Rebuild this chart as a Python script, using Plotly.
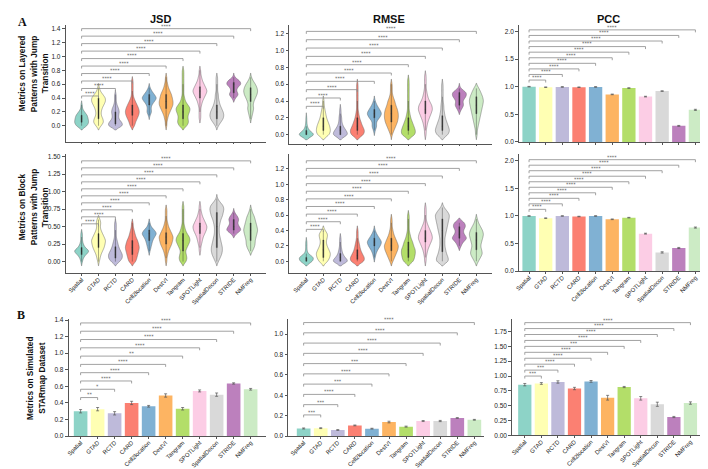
import numpy as np
import plotly.graph_objects as go

methods = ["Spatial", "GTAD", "RCTD", "CARD", "Cell2location", "DestVI",
           "Tangram", "SPOTLight", "SpatialDecon", "STRIDE", "NMFreg"]
colors = ["#8dd3c7", "#ffffb3", "#bebada", "#fb8072", "#80b1d3", "#fdb462",
          "#b3de69", "#fccde5", "#d9d9d9", "#bc80bd", "#ccebc5"]

# Violin distributions, read from the picture as histograms:
# counts at levels 0.00, 0.05, 0.10, ... (one list per method)
layered_jsd = [
    [8, 10, 9, 8, 4, 1, 1],
    [3, 6, 5, 3, 3, 4, 6, 8, 8, 5, 2, 1],
    [10, 8, 4, 4, 5, 4, 2, 1, 1, 1],
    [3, 4, 6, 8, 9, 8, 6, 4, 2, 1, 1, 1, 1, 1],
    [0, 0, 0, 1, 3, 2, 3, 6, 9, 6, 3, 1],
    [1, 1, 2, 3, 5, 7, 9, 9, 8, 7, 5, 3, 2, 1, 1],
    [5, 7, 6, 6, 8, 9, 6, 3, 2, 1, 1, 1, 1, 1, 1, 1, 1],
    [0, 0, 1, 1, 1, 1, 2, 3, 5, 7, 9, 7, 5, 3, 2, 1, 1],
    [2, 5, 8, 9, 8, 6, 4, 3, 2, 2, 1, 1, 1, 1, 1],
    [0, 0, 0, 0, 0, 0, 0, 0, 2, 6, 3, 4, 9, 7, 1],
    [0, 0, 1, 2, 3, 4, 3, 4, 6, 8, 9, 8, 6, 3, 1],
]
layered_rmse = [
    [20, 5, 2, 1, 1],
    [8, 9, 8, 6, 4, 3, 2, 1, 1],
    [12, 8, 4, 2, 2, 1, 1],
    [9, 10, 7, 5, 3, 2, 1, 1, 1, 1, 1, 1, 1],
    [0, 1, 3, 2, 6, 9, 6, 3, 1],
    [1, 3, 5, 7, 8, 8, 7, 5, 4, 2, 1, 1, 1],
    [9, 9, 7, 5, 3, 2, 1, 1, 1, 1, 1, 1, 1, 1],
    [1, 1, 2, 3, 5, 7, 9, 8, 5, 3, 2, 1, 1, 1, 1],
    [8, 10, 8, 6, 4, 3, 2, 2, 1, 1, 1, 1, 1],
    [0, 0, 0, 0, 0, 0, 2, 5, 3, 7, 8, 1],
    [1, 1, 2, 3, 4, 5, 6, 7, 8, 7, 5, 3],
]
layered_pcc = [1.0, 0.99, 0.995, 0.99, 0.995, 0.86, 0.975, 0.82, 0.92, 0.29, 0.58]
layered_pcc_err = [0.005, 0.005, 0.005, 0.005, 0.005, 0.006, 0.005, 0.006, 0.005, 0.008, 0.01]

block_jsd = [
    [1, 2, 5, 10, 4, 2, 1, 1, 1],
    [1, 2, 3, 5, 7, 8, 9, 7, 5, 3, 2, 3, 2],
    [5, 8, 8, 6, 4, 3, 2, 1, 1, 1, 1, 1],
    [4, 5, 6, 7, 8, 7, 6, 4, 3, 2, 1, 1],
    [0, 0, 0, 1, 2, 3, 4, 6, 9, 6, 2, 1],
    [1, 1, 2, 3, 5, 7, 8, 9, 7, 5, 3, 2, 1, 1, 1, 1],
    [4, 5, 4, 3, 5, 7, 9, 8, 5, 3, 2, 1, 1, 1, 1, 1, 1],
    [0, 0, 0, 1, 1, 2, 3, 4, 6, 8, 9, 7, 5, 3, 2, 1, 1],
    [2, 4, 6, 7, 7, 6, 5, 4, 3, 3, 3, 4, 5, 7, 8, 9, 8, 4, 1],
    [0, 0, 0, 0, 0, 0, 0, 0, 3, 9, 6, 4, 6, 4, 1],
    [0, 0, 0, 2, 4, 5, 5, 6, 7, 8, 7, 6, 5, 4, 2, 1],
]
block_rmse = [
    [10, 12, 2, 1, 1, 1],
    [5, 7, 8, 6, 4, 3, 4, 5, 2],
    [12, 6, 3, 2, 1, 1, 1],
    [9, 9, 6, 4, 3, 2, 1, 1, 1],
    [0, 1, 2, 4, 7, 9, 6, 3, 1],
    [2, 4, 6, 8, 9, 7, 5, 3, 2, 1, 1, 1],
    [6, 7, 8, 8, 6, 5, 3, 2, 1, 1, 1, 1, 1],
    [1, 1, 2, 3, 5, 7, 9, 8, 6, 4, 2, 1, 1, 1, 1],
    [8, 7, 5, 4, 3, 3, 3, 4, 5, 6, 7, 8, 9, 6, 2],
    [0, 0, 0, 0, 2, 4, 9, 5, 4, 7, 6],
    [2, 4, 6, 5, 4, 5, 6, 7, 6, 4, 2, 1],
]
block_pcc = [1.0, 0.96, 1.0, 0.99, 1.0, 0.94, 0.97, 0.68, 0.34, 0.42, 0.79]
block_pcc_err = [0.005, 0.006, 0.004, 0.005, 0.004, 0.006, 0.005, 0.008, 0.012, 0.01, 0.01]

starmap_jsd = [0.30, 0.325, 0.275, 0.40, 0.36, 0.49, 0.33, 0.545, 0.50, 0.635, 0.565]
starmap_jsd_err = [0.02, 0.02, 0.02, 0.02, 0.01, 0.02, 0.015, 0.012, 0.02, 0.008, 0.01]
starmap_rmse = [0.075, 0.078, 0.06, 0.105, 0.073, 0.138, 0.093, 0.148, 0.148, 0.178, 0.16]
starmap_rmse_err = [0.005, 0.004, 0.004, 0.004, 0.004, 0.008, 0.005, 0.005, 0.006, 0.003, 0.004]
starmap_pcc = [0.855, 0.875, 0.90, 0.79, 0.91, 0.635, 0.815, 0.625, 0.525, 0.31, 0.545]
starmap_pcc_err = [0.02, 0.015, 0.02, 0.02, 0.015, 0.04, 0.01, 0.03, 0.035, 0.01, 0.02]

sig_all4 = ["****"] * 10
sig_starmap_jsd = ["**", "*", "****", "****", "****", "**", "****", "****", "****", "****"]
sig_starmap_rmse = ["***", "***", "****", "***", "****", "***", "****", "****", "****", "****"]
sig_starmap_pcc = ["***", "***", "****", "****", "****", "***", "****", "****", "****", "****"]

LEVEL_STEP = 0.05
W, H = 708, 469

panels = [
    # row 1
    dict(kind="violin", data=layered_jsd, px=(54, 255), py=(15, 133), cats=(70, 240),
         zero=117, ppu=70, ticks=np.arange(0, 1.41, 0.2), fmt=".1f", sig=sig_all4,
         base=0.43, step=0.108, labels=False),
    dict(kind="violin", data=layered_rmse, px=(279, 483), py=(15, 135), cats=(296, 467),
         zero=126, ppu=85, ticks=np.arange(0, 1.21, 0.2), fmt=".1f", sig=sig_all4,
         base=0.337, step=0.099, labels=False),
    dict(kind="bar", data=layered_pcc, err=layered_pcc_err, px=(510, 702), py=(15, 133.3),
         cats=(520, 687.3), zero=133.3, ppu=55.8, ticks=np.arange(0, 2.01, 0.5), fmt=".1f",
         sig=sig_all4, base=1.12, step=0.101, labels=False),
    # row 2
    dict(kind="violin", data=block_jsd, px=(54, 255), py=(146, 266), cats=(70, 240),
         zero=254.3, ppu=70.7, ticks=np.arange(0, 1.51, 0.25), fmt=".2f", sig=sig_all4,
         base=0.54, step=0.1, labels=True),
    dict(kind="violin", data=block_rmse, px=(279, 483), py=(146, 266), cats=(296, 467),
         zero=254, ppu=77.8, ticks=np.arange(0, 1.21, 0.2), fmt=".1f", sig=sig_all4,
         base=0.415, step=0.099, labels=True),
    dict(kind="bar", data=block_pcc, err=block_pcc_err, px=(510, 702), py=(146, 264),
         cats=(520, 687.3), zero=264, ppu=55.8, ticks=np.arange(0, 2.01, 0.5), fmt=".1f",
         sig=sig_all4, base=1.12, step=0.1, labels=True),
    # row 3
    dict(kind="bar", data=starmap_jsd, err=starmap_jsd_err, px=(57, 255), py=(312, 430.7),
         cats=(69, 240), zero=430.7, ppu=83.8, ticks=np.arange(0, 1.41, 0.2), fmt=".1f",
         sig=sig_starmap_jsd, base=0.465, step=0.1, labels=True),
    dict(kind="bar", data=starmap_rmse, err=starmap_rmse_err, px=(278, 475), py=(312, 430.7),
         cats=(293.3, 465), zero=430.7, ppu=103, ticks=np.arange(0, 1.01, 0.2), fmt=".1f",
         sig=sig_starmap_rmse, base=0.208, step=0.1007, labels=True),
    dict(kind="bar", data=starmap_pcc, err=starmap_pcc_err, px=(503, 698), py=(312, 430),
         cats=(515.7, 682.3), zero=430, ppu=60, ticks=np.arange(0, 1.76, 0.25), fmt=".2f",
         sig=sig_starmap_pcc, base=1.0, step=0.1, labels=True),
]

FONT = "Liberation Sans, Arial, sans-serif"
AXC = "#555555"

fig = go.Figure()
shapes = []
annotations = []
layout = {}

for k, p in enumerate(panels):
    n = k + 1
    xname = "x" if n == 1 else f"x{n}"
    yname = "y" if n == 1 else f"y{n}"
    xkey = "xaxis" if n == 1 else f"xaxis{n}"
    ykey = "yaxis" if n == 1 else f"yaxis{n}"

    spacing = (p["cats"][1] - p["cats"][0]) / 10.0
    xr = [(p["px"][0] - p["cats"][0]) / spacing, 10 + (p["px"][1] - p["cats"][1]) / spacing]
    yr = [(p["zero"] - p["py"][1]) / p["ppu"], (p["zero"] - p["py"][0]) / p["ppu"]]

    layout[xkey] = dict(
        domain=[p["px"][0] / W, p["px"][1] / W], anchor=yname, range=xr,
        tickmode="array", tickvals=list(range(len(methods))), ticktext=methods,
        showticklabels=p["labels"], tickangle=-45, ticklabelstandoff=-2,
        tickfont=dict(family=FONT, size=5.9, color="#222"),
        showline=True, linecolor=AXC, linewidth=0.8, ticks="outside", ticklen=2,
        tickcolor=AXC, tickwidth=0.8, showgrid=False, zeroline=False, fixedrange=True,
    )
    layout[ykey] = dict(
        domain=[1 - p["py"][1] / H, 1 - p["py"][0] / H], anchor=xname, range=yr,
        tickmode="array", tickvals=list(p["ticks"]),
        ticktext=[format(v, p["fmt"]) for v in p["ticks"]],
        tickfont=dict(family=FONT, size=6.5, color="#222"),
        showline=True, linecolor=AXC, linewidth=0.8, ticks="outside", ticklen=3,
        tickcolor=AXC, tickwidth=0.8, showgrid=False, zeroline=False, fixedrange=True,
    )

    if p["kind"] == "violin":
        for i, counts in enumerate(p["data"]):
            levels = np.round(np.arange(len(counts)) * LEVEL_STEP, 3)
            vals = np.repeat(levels, counts)
            fig.add_trace(go.Violin(
                x=np.full(len(vals), i), y=vals, xaxis=xname, yaxis=yname,
                width=0.82, scalemode="width", spanmode="soft", bandwidth=0.03,
                fillcolor=colors[i], opacity=1, line=dict(color="#666", width=0.5),
                points=False, box=dict(visible=True, width=0.07, fillcolor="#2a2a2a",
                                       line=dict(color="#2a2a2a", width=0.4)),
                meanline=dict(visible=False), showlegend=False, hoverinfo="skip",
            ))
    else:
        fig.add_trace(go.Bar(
            x=list(range(len(methods))), y=p["data"], xaxis=xname, yaxis=yname,
            width=0.8, marker=dict(color=colors, line=dict(width=0)),
            error_y=dict(type="data", array=p["err"], color="#555", thickness=0.7, width=1.5),
            showlegend=False, hoverinfo="skip",
        ))

    # significance brackets
    drop = 2.5 / p["ppu"]
    for j, lab in enumerate(p["sig"]):
        h = p["base"] + p["step"] * j
        tgt = j + 1
        shapes.append(dict(
            type="path", xref=xname, yref=yname,
            path=f"M 0,{h - drop} L 0,{h} L {tgt},{h} L {tgt},{h - drop}",
            line=dict(color="#8a8a8a", width=0.8), fillcolor="rgba(0,0,0,0)",
        ))
        annotations.append(dict(
            x=tgt / 2, y=h, xref=xname, yref=yname, text=lab, showarrow=False,
            font=dict(family="DejaVu Sans, sans-serif", size=4.8, color="#555"),
            yanchor="middle", yshift=2.6, opacity=0.95,
        ))


def paper_ann(x, y, text, size, bold=True, angle=0, family=FONT):
    annotations.append(dict(
        x=x / W, y=1 - y / H, xref="paper", yref="paper", showarrow=False,
        text=f"<b>{text}</b>" if bold else text, textangle=angle,
        font=dict(family=family, size=size, color="#111"),
        xanchor="center", yanchor="middle",
    ))


paper_ann(149, 9, "JSD", 11)
paper_ann(379, 9, "RMSE", 11)
paper_ann(600, 9, "PCC", 11)
paper_ann(11, 12, "A", 12, family="Liberation Serif, Times New Roman, serif")
paper_ann(9, 308, "B", 12, family="Liberation Serif, Times New Roman, serif")

for xx, t in zip([10, 22, 34], ["Metrics on Layered", "Patterns with Jump", "Transition"]):
    paper_ann(xx, 64, t, 8.3, angle=-90)
for xx, t in zip([9.5, 21.5, 33.5], ["Metrics on Block", "Patterns with Jump", "Transition"]):
    paper_ann(xx, 199, t, 8.3, angle=-90)
for xx, t in zip([18, 30], ["Metrics on Simulated", "STARmap Dataset"]):
    paper_ann(xx, 372, t, 8.3, angle=-90)

fig.update_layout(
    width=W, height=H, margin=dict(l=0, r=0, t=0, b=0),
    paper_bgcolor="white", plot_bgcolor="white",
    violinmode="overlay", shapes=shapes, annotations=annotations,
    font=dict(family=FONT), **layout,
)

fig.write_html("out.html")
